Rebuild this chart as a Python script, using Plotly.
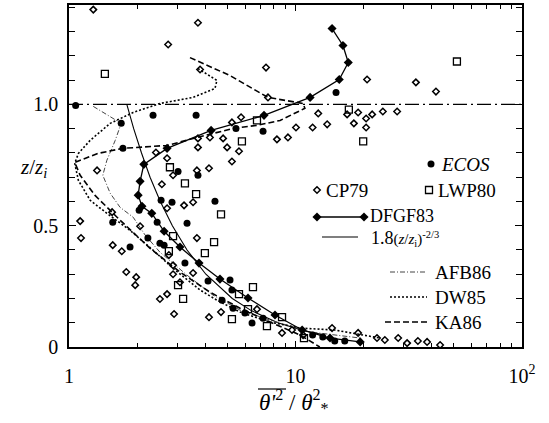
import plotly.graph_objects as go

# ---------------- data ----------------
ecos_x = [1.07, 2.35, 3.64, 1.70, 1.73, 5.46, 7.19, 15.1, 3.03, 3.71, 2.55, 2.85, 2.04, 4.41,
          1.56, 2.45, 3.32, 2.23, 2.52, 2.63, 1.86, 3.25, 4.11, 5.14, 5.24, 5.30, 5.98, 6.43,
          11.9, 13.2, 14.9, 16.5, 4.74, 7.19]
ecos_z = [0.996, 0.955, 0.955, 0.922, 0.819, 0.901, 0.889, 1.049, 0.724, 0.708, 0.605, 0.597,
          0.564, 0.601, 0.514, 0.514, 0.510, 0.449, 0.428, 0.420, 0.412, 0.346, 0.272, 0.276,
          0.235, 0.160, 0.140, 0.099, 0.049, 0.041, 0.025, 0.025, 0.193, 0.119]

cp79_x = [1.28, 3.71, 2.74, 3.79, 7.41, 7.56, 20.7, 34.0, 41.7, 16.9, 18.9, 20.5, 21.8, 24.3,
          28.1, 18.1, 20.5, 12.6, 13.8, 11.9, 10.05, 9.26, 8.28, 5.24, 5.75, 3.71, 4.19, 4.79,
          4.99, 5.63, 3.71, 2.42, 2.71, 5.24, 4.15, 3.67, 2.88, 2.57, 1.33, 3.53, 3.22, 1.55,
          1.12, 1.13, 1.56, 1.71, 2.06, 1.79, 1.98, 1.96, 2.52, 2.71, 2.91, 2.76, 2.88, 3.67,
          4.15, 4.69, 6.76, 8.72, 9.65, 10.8, 14.5, 18.9, 22.9, 24.8, 28.4, 31.1, 34.7, 38.1,
          43.5, 2.71, 2.88, 3.09, 3.53]
cp79_z = [1.391, 1.337, 1.247, 1.144, 1.152, 1.029, 1.103, 1.091, 1.053, 0.959, 0.967, 0.942,
          0.959, 0.971, 0.971, 0.922, 0.905, 0.963, 0.918, 0.905, 0.905, 0.864, 0.856, 0.926,
          0.947, 0.860, 0.864, 0.860, 0.823, 0.807, 0.823, 0.802, 0.778, 0.765, 0.737, 0.728,
          0.708, 0.671, 0.728, 0.597, 0.584, 0.556, 0.519, 0.449, 0.420, 0.395, 0.498, 0.309,
          0.288, 0.255, 0.198, 0.218, 0.136, 0.379, 0.337, 0.449, 0.123, 0.144, 0.156, 0.058,
          0.070, 0.049, 0.078, 0.058, 0.037, 0.029, 0.037, 0.016, 0.025, 0.021, 0.008, 0.572,
          0.300, 0.267, 0.305]

lwp80_x = [1.44, 51.6, 17.2, 19.9, 6.76, 5.80, 2.79, 3.25, 3.64, 4.69, 2.88, 2.76, 4.37, 3.98,
           3.03, 3.19, 5.24, 6.49, 5.63, 6.17, 7.48, 8.72, 10.9]
lwp80_z = [1.126, 1.177, 0.979, 0.848, 0.934, 0.848, 0.741, 0.675, 0.630, 0.547, 0.457, 0.395,
           0.432, 0.387, 0.255, 0.198, 0.115, 0.247, 0.218, 0.156, 0.086, 0.123, 0.037]

dfgf_x = [14.5, 16.2, 17.1, 15.6, 11.6, 7.26, 4.24, 2.71, 2.14, 2.06, 2.02, 2.10, 2.32, 2.63,
          3.09, 3.75, 4.64, 6.17, 8.12, 10.7, 14.2, 19.3]
dfgf_z = [1.313, 1.243, 1.173, 1.103, 1.029, 0.955, 0.893, 0.819, 0.753, 0.683, 0.626, 0.580,
          0.551, 0.477, 0.412, 0.346, 0.280, 0.202, 0.132, 0.070, 0.037, 0.021]

# 1.8 (z/zi)^(-2/3) curve
law_z = [1.0, 0.9, 0.8, 0.7, 0.6, 0.5, 0.4, 0.3, 0.2, 0.15, 0.1, 0.07, 0.05]
law_x = [1.80, 1.93, 2.09, 2.28, 2.53, 2.86, 3.32, 4.02, 5.26, 6.38, 8.36, 10.6, 13.3]

afb_x = [1.28, 1.70, 1.60, 1.47, 1.41, 1.52, 1.68, 1.92, 2.17, 2.52, 3.32, 4.32, 5.69, 7.71,
         11.6, 19.3]
afb_z = [0.992, 0.922, 0.852, 0.770, 0.708, 0.634, 0.576, 0.535, 0.461, 0.391, 0.296, 0.214,
         0.152, 0.111, 0.062, 0.037]

dw_x = [3.71, 4.50, 4.41, 3.53, 2.52, 1.92, 1.52, 1.24, 1.10, 1.06, 1.10, 1.24, 1.47, 1.86,
        2.35, 2.94, 3.79, 4.50, 5.69, 7.71, 10.5, 14.9, 23.6]
dw_z = [1.148, 1.099, 1.066, 1.029, 1.004, 0.967, 0.922, 0.852, 0.798, 0.757, 0.687, 0.605,
        0.551, 0.481, 0.399, 0.317, 0.235, 0.193, 0.144, 0.103, 0.078, 0.070, 0.037]

ka_x = [3.42, 5.14, 7.56, 10.8, 11.0, 8.55, 6.76, 5.30, 3.98, 2.71, 1.73, 1.34, 1.06, 1.12,
        1.30, 1.68, 2.28, 3.09, 4.19, 5.69, 7.71, 10.5, 12.8]
ka_z = [1.193, 1.119, 1.029, 1.004, 0.984, 0.934, 0.914, 0.901, 0.872, 0.831, 0.819, 0.798,
        0.761, 0.708, 0.626, 0.523, 0.407, 0.309, 0.226, 0.160, 0.103, 0.049, 0.0]

zi_x = [1, 100]
zi_z = [1.0, 1.0]

x_tickvals = [1, 10, 100]
x_ticktext = ["1", "10", "10<sup>2</sup>"]
x_minor = [2, 3, 4, 5, 6, 7, 8, 9, 20, 30, 40, 50, 60, 70, 80, 90]
y_tickvals = [0, 0.5, 1.0]
y_ticktext = ["0", "0.5", "1.0"]
y_minor = [0.1, 0.2, 0.3, 0.4, 0.6, 0.7, 0.8, 0.9, 1.1, 1.2, 1.3, 1.4]

FONT = "Liberation Serif"
BLK = "black"

fig = go.Figure()

def line(x, y, dash, width=1.2, color=BLK, xa="x", ya="y"):
    fig.add_trace(go.Scatter(x=x, y=y, mode="lines", xaxis=xa, yaxis=ya,
                             line=dict(color=color, width=width, dash=dash),
                             hoverinfo="skip", showlegend=False))

# curves
line(zi_x, zi_z, "14px,4px,2px,4px", 1.3)
line(law_x, law_z, "solid", 1.1)
line(afb_x, afb_z, "5px,2px,1px,2px", 1.0, "#444")
line(dw_x, dw_z, "2px,2px", 1.6)
line(ka_x, ka_z, "6px,3px", 1.6)

# scatter points
fig.add_trace(go.Scatter(x=cp79_x, y=cp79_z, mode="markers", showlegend=False,
                         marker=dict(symbol="diamond-open", size=5, color=BLK,
                                     line=dict(width=1.5, color=BLK))))
fig.add_trace(go.Scatter(x=lwp80_x, y=lwp80_z, mode="markers", showlegend=False,
                         marker=dict(symbol="square-open", size=7, color=BLK,
                                     line=dict(width=1.3, color=BLK))))
fig.add_trace(go.Scatter(x=ecos_x, y=ecos_z, mode="markers", showlegend=False,
                         marker=dict(symbol="circle", size=7, color=BLK)))
fig.add_trace(go.Scatter(x=dfgf_x, y=dfgf_z, mode="lines+markers", showlegend=False,
                         line=dict(color=BLK, width=1.3),
                         marker=dict(symbol="diamond", size=7, color=BLK)))

# ---------------- legend samples on a pixel-like overlay axis ----------------
fig.add_trace(go.Scatter(x=[431], y=[164], mode="markers", xaxis="x2", yaxis="y2",
                         showlegend=False, marker=dict(symbol="circle", size=7, color=BLK)))
fig.add_trace(go.Scatter(x=[317], y=[190], mode="markers", xaxis="x2", yaxis="y2",
                         showlegend=False, marker=dict(symbol="diamond-open", size=5, color=BLK,
                                                       line=dict(width=1.5, color=BLK))))
fig.add_trace(go.Scatter(x=[429], y=[190], mode="markers", xaxis="x2", yaxis="y2",
                         showlegend=False, marker=dict(symbol="square-open", size=7, color=BLK,
                                                       line=dict(width=1.3, color=BLK))))
fig.add_trace(go.Scatter(x=[317, 364], y=[217, 217], mode="lines+markers", xaxis="x2", yaxis="y2",
                         showlegend=False, line=dict(color=BLK, width=1.3),
                         marker=dict(symbol="diamond", size=7, color=BLK)))
line([322, 358], [237, 237], "solid", 1.1, BLK, "x2", "y2")
line([390, 427], [272, 272], "5px,2px,1px,2px", 1.0, "#444", "x2", "y2")
line([390, 427], [297, 297], "2px,2px", 1.6, BLK, "x2", "y2")
line([385, 427], [322, 322], "6px,3px", 1.6, BLK, "x2", "y2")

legend_text = [
    (439, 164, "<i>ECOS</i>", 19),
    (324, 190, "CP79", 19),
    (436, 190, "LWP80", 19),
    (368, 216, "DFGF83", 18),
    (369, 238, "1.8<span style='font-size:15px'>(<i>z</i>/<i>z</i><sub>i</sub>)"
               "<sup>-2/3</sup></span>", 18),
    (433, 272, "AFB86", 19),
    (433, 297, "DW85", 19),
    (433, 322, "KA86", 19),
]
for (tx, ty, txt, fs) in legend_text:
    fig.add_annotation(x=tx, y=ty, xref="x2", yref="y2", text=txt, showarrow=False,
                       xanchor="left", yanchor="middle",
                       font=dict(family=FONT, size=fs, color=BLK))

W, H = 549, 423
ML, MR, MT, MB = 69, 27, 5, 76
PW, PH = W - ML - MR, H - MT - MB

def px(xp):
    return (xp - ML) / PW

def py(yp):
    return (H - MB - yp) / PH

# axis titles
fig.add_annotation(x=px(33), y=py(168), xref="paper", yref="paper",
                   text="<i>z</i>/<i>z</i><sub><i>i</i></sub>", showarrow=False,
                   xanchor="center", yanchor="middle",
                   font=dict(family=FONT, size=21, color=BLK))
fig.add_annotation(x=px(294), y=py(401), xref="paper", yref="paper",
                   text="<i>θ'</i><sup>2</sup> / <i>θ</i><sup>2</sup><sub>*</sub>",
                   showarrow=False, xanchor="center", yanchor="middle",
                   font=dict(family=FONT, size=23, color=BLK))
fig.add_shape(type="line", xref="paper", yref="paper",
              x0=px(258), x1=px(286), y0=py(389), y1=py(389),
              line=dict(color=BLK, width=1.2))

axis_common = dict(showgrid=False, zeroline=False, showline=True, linecolor=BLK, linewidth=1.5,
                   mirror="allticks", ticks="inside", tickcolor=BLK, tickwidth=1,
                   tickfont=dict(family=FONT, size=20, color=BLK))

fig.update_layout(
    width=W, height=H,
    margin=dict(l=ML, r=MR, t=MT, b=MB, autoexpand=False),
    paper_bgcolor="white", plot_bgcolor="white",
    showlegend=False,
    xaxis=dict(type="log", range=[0, 2], tickmode="array", tickvals=x_tickvals,
               ticktext=x_ticktext, ticklen=6, ticklabelstandoff=10,
               minor=dict(tickmode="array", tickvals=x_minor, ticks="inside", ticklen=4,
                          tickcolor=BLK, tickwidth=1),
               **axis_common),
    yaxis=dict(range=[0, 1.41], tickmode="array", tickvals=y_tickvals, ticktext=y_ticktext,
               ticklen=7, ticklabelstandoff=5,
               minor=dict(tickmode="array", tickvals=y_minor, ticks="inside", ticklen=6,
                          tickcolor=BLK, tickwidth=1),
               **axis_common),
    xaxis2=dict(range=[ML, W - MR], overlaying="x", anchor="y2", visible=False),
    yaxis2=dict(range=[H - MB, MT], overlaying="y", anchor="x2", visible=False),
)

fig.write_html("out.html", config={"displayModeBar": False},
               post_script="document.body.style.margin='0';document.body.style.padding='0';")
